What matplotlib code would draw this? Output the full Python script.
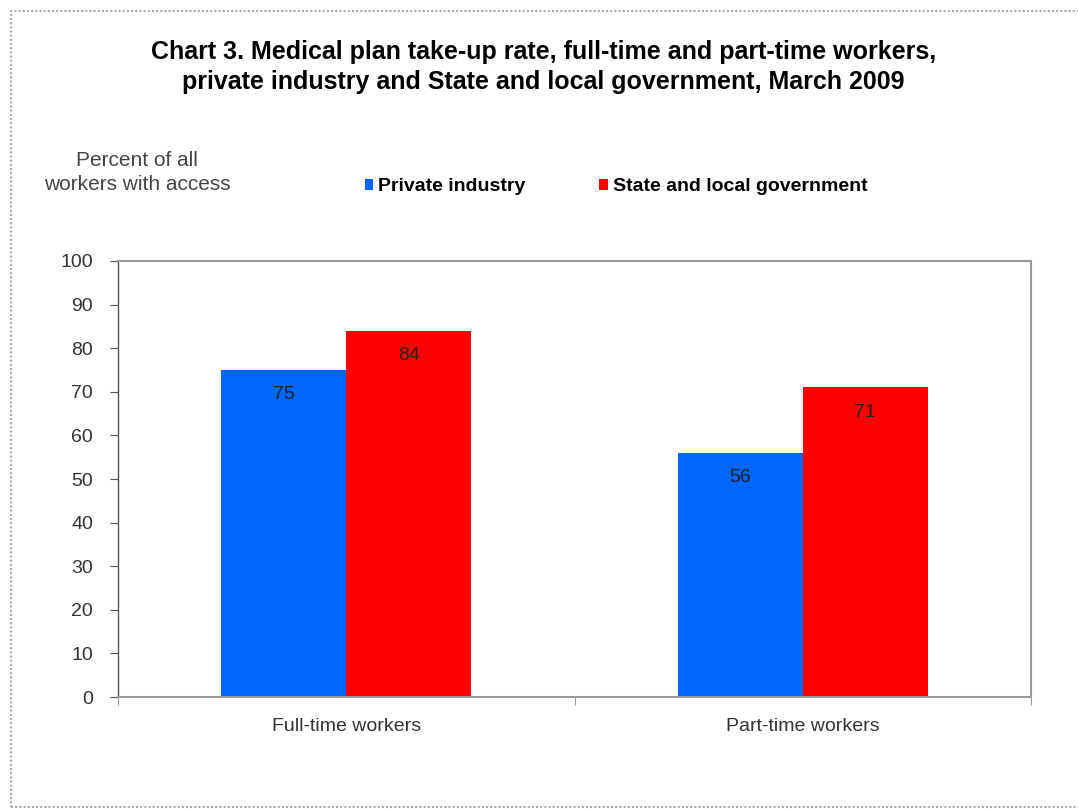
import matplotlib.pyplot as plt
from matplotlib.patches import Rectangle
import numpy as np

plt.rcParams['font.family'] = ['Liberation Sans', 'DejaVu Sans']

categories = ['Full-time workers', 'Part-time workers']
private_industry = [75, 56]
state_local = [84, 71]
series_names = ['Private industry', 'State and local government']
colors = ['#0066ff', '#ff0000']

fig = plt.figure(figsize=(10.78, 8.09), dpi=100)
ax = fig.add_axes([0.1095, 0.1384, 0.8469, 0.539])

x = np.arange(len(categories))
w = 0.274
b1 = ax.bar(x - w / 2, private_industry, w, color=colors[0], label=series_names[0])
b2 = ax.bar(x + w / 2, state_local, w, color=colors[1], label=series_names[1])

# value labels inside the bars, near the top
for bars in (b1, b2):
    for r in bars:
        h = r.get_height()
        ax.text(r.get_x() + r.get_width() / 2, h - 5.7, f'{h:g}',
                ha='center', va='center', fontsize=14, color='#222222')

ax.set_xlim(-0.5, 1.5)
ax.set_ylim(0, 100)
ax.set_yticks(range(0, 101, 10))
ax.set_xticks(x)
ax.set_xticklabels(categories)
ax.set_xticks([-0.5, 0.5, 1.5], minor=True)
ax.tick_params(axis='x', which='major', length=0, pad=15, labelsize=14, labelcolor='#333333')
ax.tick_params(axis='x', which='minor', length=6, direction='out', color='#888888')
ax.tick_params(axis='y', length=6, direction='out', color='#555555', labelsize=14,
               labelcolor='#333333', pad=12)
for s in ax.spines.values():
    s.set_color('#999999')
    s.set_linewidth(1.5)
    s.set_linestyle((0, (1, 1)))
ax.spines['left'].set_color('#555555')
ax.spines['left'].set_linestyle('-')
ax.spines['left'].set_linewidth(1)

fig.text(0.504, 0.917, 'Chart 3. Medical plan take-up rate, full-time and part-time workers,\n'
         'private industry and State and local government, March 2009',
         ha='center', va='center', fontsize=18, fontweight='bold', linespacing=1.28)

fig.text(0.127, 0.787, 'Percent of all\nworkers with access', ha='center', va='center',
         fontsize=15, color='#444444', linespacing=1.3)

fig.legend(handles=[b1, b2], loc='center left', bbox_to_anchor=(0.322, 0.769), ncol=2,
           frameon=False, handlelength=0.45, handleheight=0.45, handletextpad=0.25,
           columnspacing=3.8, prop={'weight': 'bold', 'size': 14})

# outer chart frame
fig.patches.append(Rectangle((11 / 1078, 2 / 809), 1.1, (809 - 13) / 809,
                             transform=fig.transFigure, fill=False,
                             edgecolor='#aaaaaa', linewidth=1.5, linestyle=(0, (1, 1))))

fig.savefig('out.png', dpi=100)
